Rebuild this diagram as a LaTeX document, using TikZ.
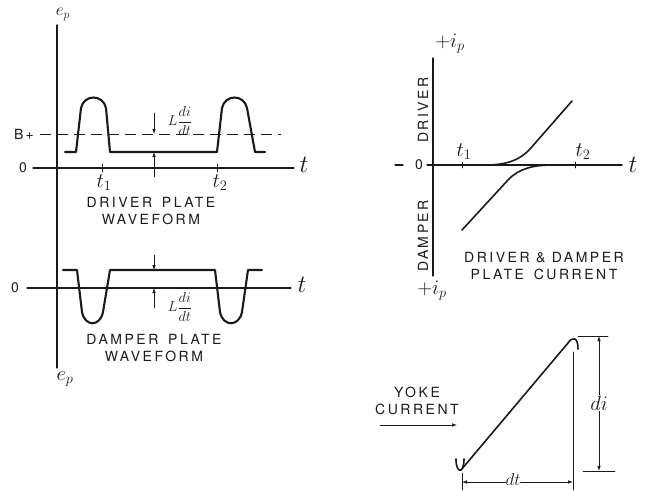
\documentclass[tikz,border=0pt]{standalone}
\usepackage{fontspec}
\newfontfamily\letterfont[LetterSpace=18]{TeX Gyre Heros}
\usepackage{tikz}
\usetikzlibrary{arrows.meta}
\definecolor{inkline}{HTML}{1A1A1A}
\tikzset{
every picture/.style={line cap=round,line join=round},
wave line/.style={draw=inkline, line width=2.1pt},
axis line/.style={draw=inkline, line width=1.1pt},
supply line/.style={draw=inkline, line width=0.9pt, line cap=butt, dash pattern=on 11pt off 6pt},
thin line/.style={draw=inkline, line width=0.8pt},
dim arrow/.style={draw=inkline, line width=0.8pt, -{Latex[length=5pt,width=3.6pt]}},
cap label/.style={font=\letterfont\fontsize{14}{17}\selectfont, text=inkline, align=center, inner sep=1pt},
math label/.style={font=\fontsize{24}{26}\selectfont, text=inkline, inner sep=1pt},
small math/.style={font=\fontsize{20}{22}\selectfont, text=inkline, inner sep=1pt},
frac label/.style={font=\fontsize{14}{16}\selectfont, text=inkline, inner sep=1pt}
}
\newcommand{\wordgap}{\hspace{0.7em}}
\begin{document}
\begin{tikzpicture}[x=1pt,y=-1pt]
\useasboundingbox (0,0) rectangle (645,490);
\coordinate (epAxTop) at (57,25);
\coordinate (epAxBot) at (57,368);
\draw[axis line] (epAxTop) -- (epAxBot);
\node[small math, font=\fontsize{18}{20}\selectfont, inner sep=0pt, anchor=north] (epTop) at (63,8) {$e_p$};
\node[small math] (epBot) at (65,379) {$e_p$};
\coordinate (drvZeroL) at (33,168);
\coordinate (drvZeroR) at (294,168);
\draw[axis line] (drvZeroL) -- (drvZeroR);
\node[cap label] (drvZero) at (23,168) {0};
\node[math label] (drvT) at (304,165) {$t$};
\coordinate (bplusL) at (40,134);
\coordinate (bplusR) at (281,134);
\draw[supply line] (bplusL) -- (bplusR);
\node[cap label] (bplus) at (24,134) {B\,+};
\foreach \tx in {102,217} {
\draw[thin line] (\tx,164) -- (\tx,172);
}
\node[small math] (drvTone) at (104,183) {$t_1$};
\node[small math] (drvTtwo) at (220,183) {$t_2$};
\draw[wave line] (65,152) -- (76,152) -- (81,108) .. controls (84,94) and (103,94) .. (106,108) -- (110,152) -- (217,152) -- (222,108) .. controls (225,94) and (244,94) .. (247,108) -- (255,152) -- (265,152);
\coordinate (drvUpTail) at (154,113);
\coordinate (drvUpHead) at (154,134);
\coordinate (drvLoTail) at (154,177);
\coordinate (drvLoHead) at (154,152);
\draw[dim arrow] (drvUpTail) -- (drvUpHead);
\draw[dim arrow] (drvLoTail) -- (drvLoHead);
\node[frac label] (drvLdidt) at (180,121) {$L\displaystyle\frac{di}{dt}$};
\node[cap label] (drvTitle) at (151,211) {DRIVER\wordgap PLATE\\WAVEFORM};
\coordinate (dmpZeroL) at (27,288);
\coordinate (dmpZeroR) at (291,288);
\draw[axis line] (dmpZeroL) -- (dmpZeroR);
\node[cap label] (dmpZero) at (15,288) {0};
\node[math label] (dmpT) at (302,285) {$t$};
\draw[wave line] (63,270) -- (77,270) -- (82,312) .. controls (85,327) and (100,327) .. (103,312) -- (110,270) -- (215,270) -- (220,312) .. controls (223,327) and (239,327) .. (242,312) -- (248,270) -- (262,270);
\coordinate (dmpUpTail) at (154,255);
\coordinate (dmpUpHead) at (154,270);
\coordinate (dmpLoTail) at (154,308);
\coordinate (dmpLoHead) at (154,288);
\draw[dim arrow] (dmpUpTail) -- (dmpUpHead);
\draw[dim arrow] (dmpLoTail) -- (dmpLoHead);
\node[frac label] (dmpLdidt) at (180,307) {$L\displaystyle\frac{di}{dt}$};
\node[cap label] (dmpTitle) at (154,348) {DAMPER\wordgap PLATE\\WAVEFORM};
\coordinate (ipAxTop) at (433,58);
\coordinate (ipAxBot) at (433,276);
\draw[axis line] (ipAxTop) -- (ipAxBot);
\node[small math] (ipTop) at (450,44) {$+i_p$};
\node[small math] (ipBot) at (432,291) {$+i_p$};
\coordinate (ipZeroL) at (427,165);
\coordinate (ipZeroR) at (622,165);
\draw[axis line] (ipZeroL) -- (ipZeroR);
\draw[axis line] (395,165) -- (403,165);
\node[cap label] (ipZero) at (419,165) {0};
\node[math label] (ipT) at (633,165) {$t$};
\foreach \tx in {462,575} {
\draw[thin line] (\tx,162) -- (\tx,168);
}
\node[small math] (ipTone) at (464,152) {$t_1$};
\node[small math] (ipTtwo) at (583,152) {$t_2$};
\node[cap label, rotate=90] (ipDriver) at (423,110) {DRIVER};
\node[cap label, rotate=90] (ipDamper) at (423,236) {DAMPER};
\draw[wave line, line width=1.6pt] (485,165) .. controls (505,165) and (519,161) .. (530,149) -- (572,101);
\draw[wave line, line width=1.6pt] (462,230) -- (508,180) .. controls (519,168) and (535,165) .. (552,165);
\node[cap label] (ipTitle) at (544,266) {DRIVER \& DAMPER\\PLATE\wordgap CURRENT};
\draw[wave line, line width=1.6pt] (456,459) .. controls (456,474) and (464,474) .. (464,459);
\draw[wave line, line width=1.6pt] (461,470) -- (568,343) .. controls (572,337) and (578,336) .. (578,349);
\coordinate (rampTopFoot) at (573,352);
\coordinate (rampTopBase) at (573,490);
\coordinate (rampLowFoot) at (462,473);
\coordinate (rampLowBase) at (462,490);
\draw[thin line] (rampTopFoot) -- (rampTopBase);
\draw[thin line] (rampLowFoot) -- (rampLowBase);
\node[small math, font=\fontsize{16}{18}\selectfont, inner sep=0pt, anchor=south] (dtLabel) at (513,486) {$dt$};
\coordinate (dtLeft) at (462,482);
\coordinate (dtRight) at (573,482);
\draw[dim arrow] (dtLabel.west |- dtLeft) -- (dtLeft);
\draw[dim arrow] (dtLabel.east |- dtRight) -- (dtRight);
\coordinate (diTopL) at (578,336);
\coordinate (diTopR) at (608,336);
\coordinate (diLowL) at (583,471);
\coordinate (diLowR) at (615,471);
\draw[thin line] (diTopL) -- (diTopR);
\draw[thin line] (diLowL) -- (diLowR);
\node[small math] (diLabel) at (599,403) {$di$};
\coordinate (diTop) at (599,336);
\coordinate (diLow) at (599,471);
\draw[dim arrow] (diLabel.north) -- (diTop);
\draw[dim arrow] (diLabel.south) -- (diLow);
\node[cap label] (yokeLabel) at (417,401) {YOKE\\CURRENT};
\coordinate (yokeTail) at (380,425);
\coordinate (yokeHead) at (457,425);
\draw[dim arrow] (yokeTail) -- (yokeHead);
\end{tikzpicture}
\end{document}
